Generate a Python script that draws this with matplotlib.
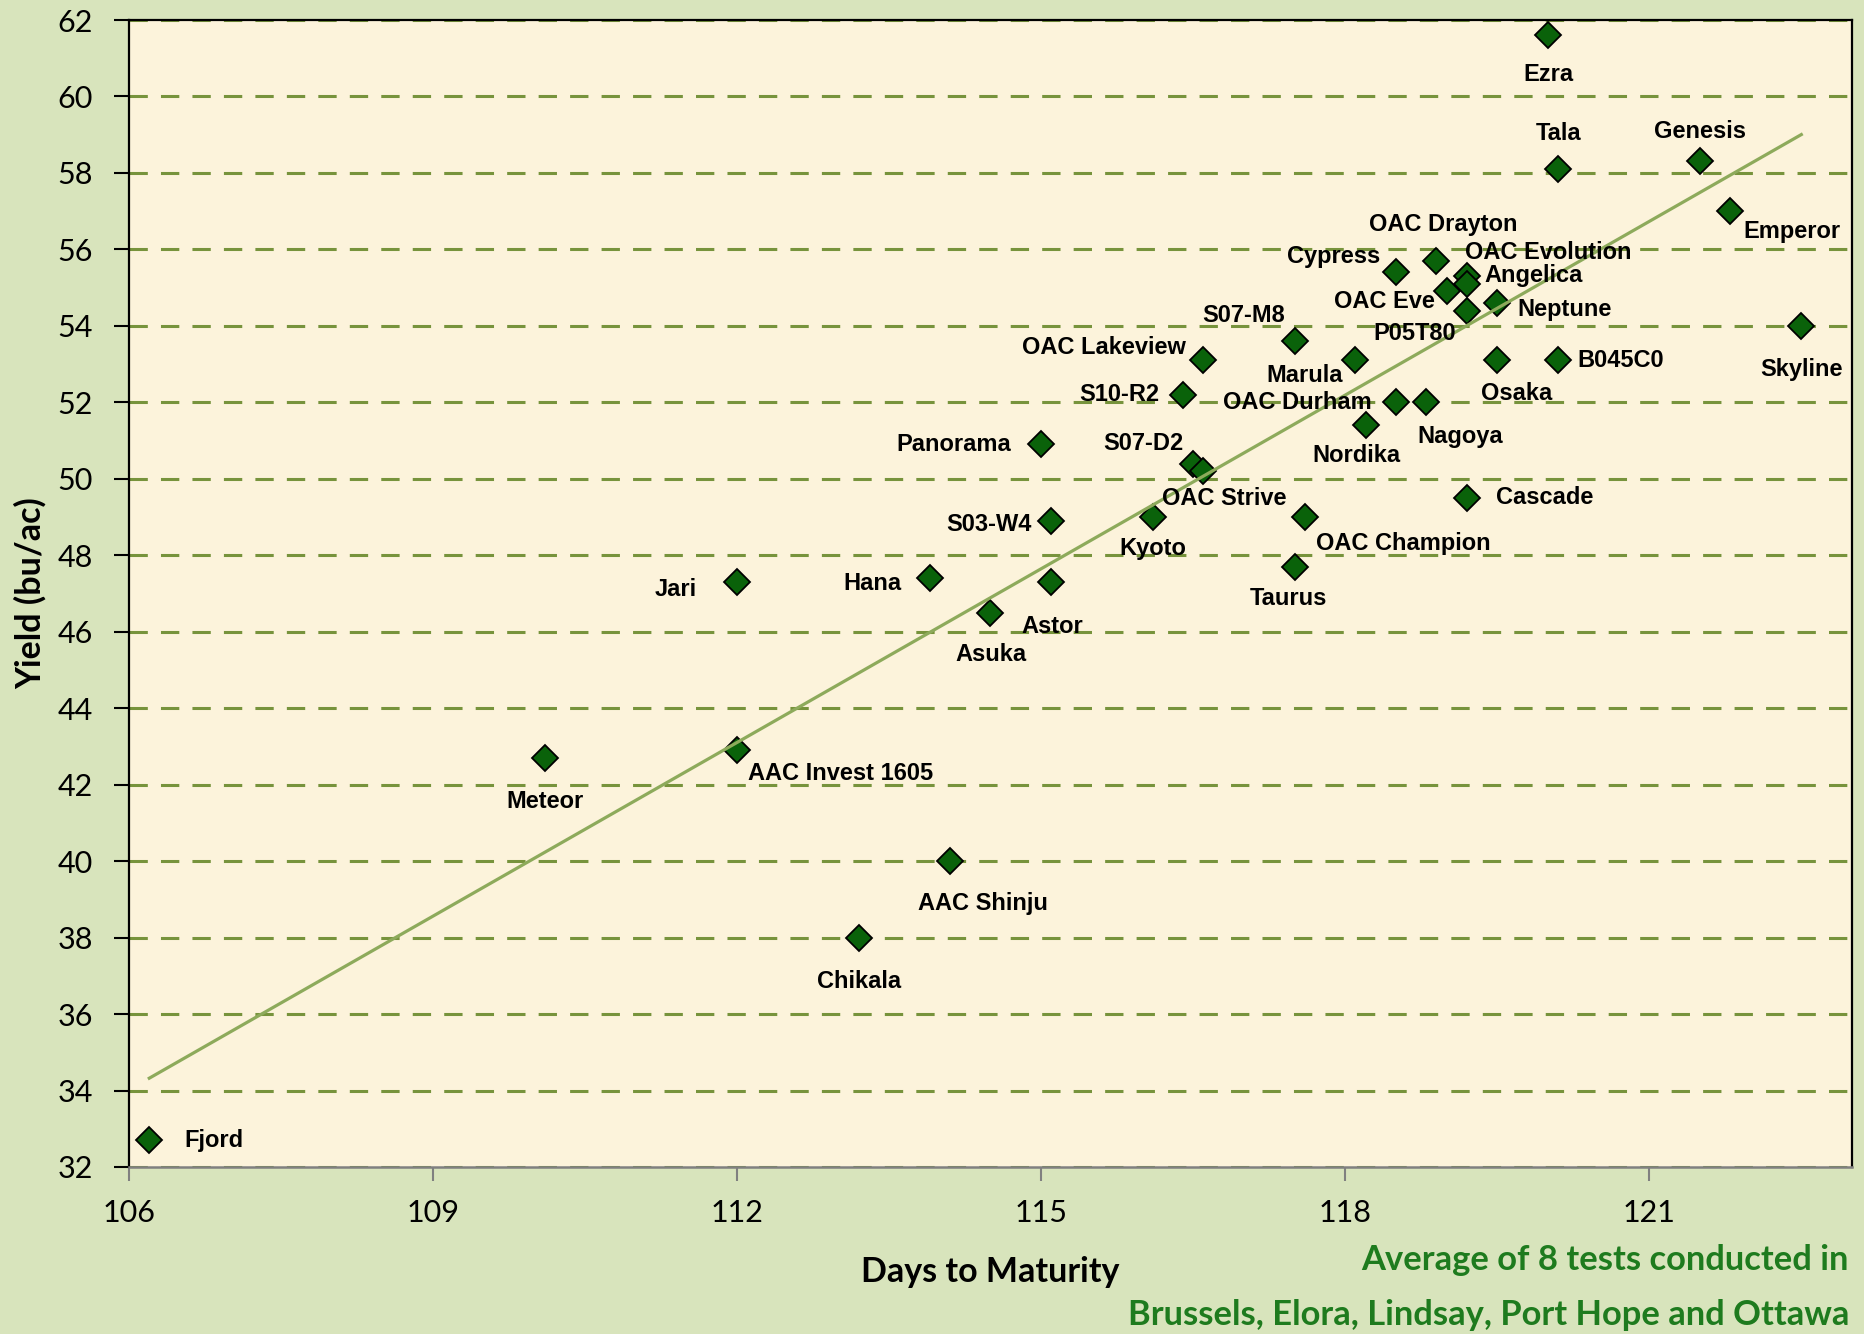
import numpy as np
import matplotlib
matplotlib.use('Agg')
import matplotlib.pyplot as plt

# ---------------- data ----------------
varieties = ['Fjord', 'Meteor', 'Jari', 'AAC Invest 1605', 'Chikala', 'AAC Shinju',
             'Hana', 'Asuka', 'Astor', 'S03-W4', 'Panorama', 'Kyoto', 'S07-D2',
             'OAC Strive', 'S10-R2', 'OAC Lakeview', 'S07-M8', 'Marula', 'OAC Durham',
             'Nagoya', 'Nordika', 'OAC Champion', 'Taurus', 'Cypress', 'OAC Drayton',
             'OAC Evolution', 'Angelica', 'OAC Eve', 'P05T80', 'Neptune', 'Osaka',
             'B045C0', 'Cascade', 'Ezra', 'Tala', 'Genesis', 'Emperor', 'Skyline']
days = [106.2, 110.1, 112.0, 112.0, 113.2, 114.1,
        113.9, 114.5, 115.1, 115.1, 115.0, 116.1, 116.5,
        116.6, 116.4, 116.6, 117.5, 118.1, 118.5,
        118.8, 118.2, 117.6, 117.5, 118.5, 118.9,
        119.2, 119.2, 119.0, 119.2, 119.5, 119.5,
        120.1, 119.2, 120.0, 120.1, 121.5, 121.8, 122.5]
yields = [32.7, 42.7, 47.3, 42.9, 38.0, 40.0,
          47.4, 46.5, 47.3, 48.9, 50.9, 49.0, 50.4,
          50.2, 52.2, 53.1, 53.6, 53.1, 52.0,
          52.0, 51.4, 49.0, 47.7, 55.4, 55.7,
          55.3, 55.1, 54.9, 54.4, 54.6, 53.1,
          53.1, 49.5, 61.6, 58.1, 58.3, 57.0, 54.0]
x_ticks = [106, 109, 112, 115, 118, 121]
y_ticks = list(range(32, 63, 2))
x_title = 'Days to Maturity'
y_title = 'Yield (bu/ac)'
note_lines = ['Average of 8 tests conducted in',
              'Brussels, Elora, Lindsay, Port Hope and Ottawa']

# label placement (pixel offsets from the marker, y up)
label_offsets = {
    'Ezra': (0, -39), 'Tala': (0, 36), 'Genesis': (0, 30), 'Emperor': (62, -20),
    'Skyline': (0, -44), 'OAC Drayton': (7, 36), 'OAC Evolution': (81, 24),
    'Cypress': (-62, 16), 'Angelica': (67, 8), 'OAC Eve': (-62, -10),
    'Neptune': (67, -7), 'P05T80': (-52, -23), 'S07-M8': (-51, 26),
    'OAC Lakeview': (-99, 13), 'Marula': (-51, -15), 'Osaka': (19, -33),
    'B045C0': (63, 0), 'S10-R2': (-64, 0), 'OAC Durham': (-99, 0),
    'Nagoya': (34, -34), 'Nordika': (-9, -30), 'Panorama': (-87, 0),
    'S07-D2': (-50, 20), 'OAC Strive': (21, -27), 'Cascade': (78, 0),
    'S03-W4': (-62, -4), 'Kyoto': (0, -31), 'OAC Champion': (99, -26),
    'Taurus': (-6, -32), 'Jari': (-61, -7), 'Hana': (-57, -5), 'Astor': (1, -44),
    'Asuka': (0, -42), 'Meteor': (0, -44), 'AAC Invest 1605': (103, -23),
    'AAC Shinju': (33, -42), 'Chikala': (0, -44), 'Fjord': (65, 0),
}

# ---------------- style ----------------
FIG_BG = '#D8E4BC'
AX_BG = '#FCF3DB'
GRID = '#77933C'
TREND = '#8DAA5B'
MARK = '#0A620A'
NOTE = '#1E7B1E'

W, H, DPI = 1864, 1334, 100
fig = plt.figure(figsize=(W / DPI, H / DPI), dpi=DPI, facecolor=FIG_BG)
L, R, T, B = 129, 1852, 20, 1167
ax = fig.add_axes([L / W, 1 - B / H, (R - L) / W, (B - T) / H])
ax.set_facecolor(AX_BG)

ax.set_xlim(106, 123)
ax.set_ylim(32, 62)
ax.set_xticks(x_ticks)
ax.set_yticks(y_ticks)

tick_font = dict(family='Lato', size=22)
ax.set_xticklabels([str(v) for v in x_ticks], fontdict=tick_font)
ax.set_yticklabels([str(v) for v in y_ticks], fontdict=tick_font)
ax.tick_params(axis='x', direction='out', length=10, width=1.5, color='#808080', pad=13)
ax.tick_params(axis='y', direction='out', length=11, width=1.5, color='black', pad=15)

ax.yaxis.grid(True, color=GRID, linewidth=2.2, linestyle=(0, (6, 4.3)), zorder=1)
ax.xaxis.grid(False)
ax.set_axisbelow(True)

for s in ['left', 'top', 'right']:
    ax.spines[s].set_color('black')
    ax.spines[s].set_linewidth(1.6)
ax.spines['bottom'].set_color('#808080')
ax.spines['bottom'].set_linewidth(1.8)

# markers
ax.plot(days, yields, linestyle='none', marker='D', markersize=13.5,
        markerfacecolor=MARK, markeredgecolor='black', markeredgewidth=1.3,
        zorder=3, clip_on=False)

# linear trend line
coef = np.polyfit(days, yields, 1)
xs = np.array([min(days), max(days)])
ax.plot(xs, np.polyval(coef, xs), color=TREND, linewidth=2.3, zorder=4)

# data labels
for name, xv, yv in zip(varieties, days, yields):
    dx, dy = label_offsets.get(name, (0, 0))
    ax.annotate(name, (xv, yv), xytext=(dx, dy), textcoords='offset pixels',
                ha='center', va='center', fontsize=17, fontweight='bold',
                family='Liberation Sans', color='black', zorder=5)

# axis titles
ax.set_xlabel(x_title, family='Lato', fontsize=24.5, fontweight='bold', va='center')
ax.xaxis.set_label_coords((990 - L) / (R - L), -(1272 - B) / (B - T))
ax.set_ylabel(y_title, family='Lato', fontsize=24.5, fontweight='bold', va='center')
ax.yaxis.set_label_coords((30 - L) / (R - L), 0.5)

# note
fig.text(1849 / W, 1 - 1260 / H, note_lines[0], ha='right', va='center',
         family='Lato', fontsize=24.8, fontweight='bold', color=NOTE)
fig.text(1849 / W, 1 - 1315 / H, note_lines[1], ha='right', va='center',
         family='Lato', fontsize=24.8, fontweight='bold', color=NOTE)

fig.savefig('out.png', dpi=DPI, facecolor=FIG_BG)
